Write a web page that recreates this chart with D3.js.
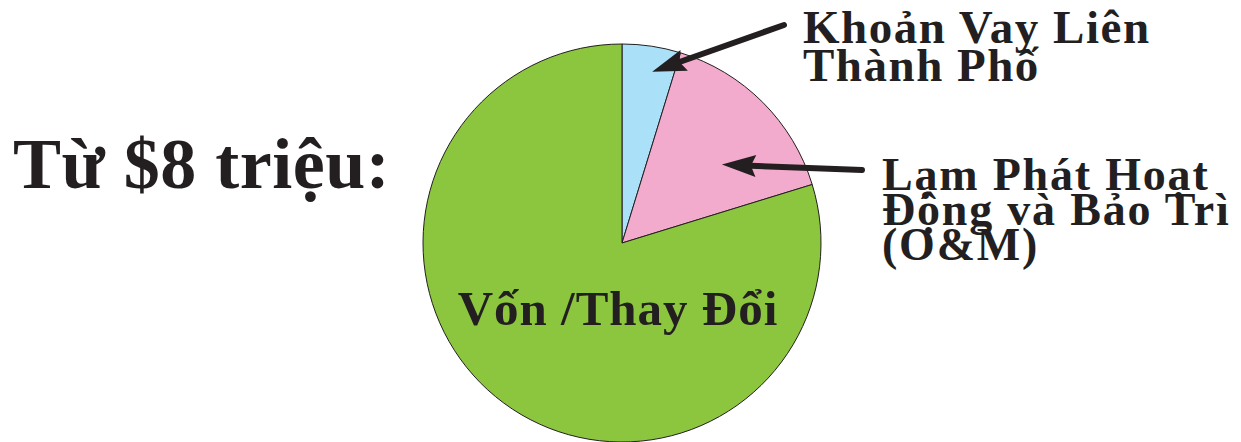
<!DOCTYPE html>
<html>
<head>
<meta charset="utf-8">
<script src="https://cdn.jsdelivr.net/npm/d3@7"></script>
<style>
  body { margin: 0; background: #fff; }
  svg text { font-family: "Liberation Serif", "DejaVu Serif", serif; font-weight: bold; fill: #231f20; }
</style>
</head>
<body>
<svg id="chart"></svg>
<script>
// slices in millions of dollars, out of $8 million, clockwise from 12 o'clock
var categories = ["Khoản Vay Liên Thành Phố", "Lạm Phát Hoạt Động và Bảo Trì (O&M)", "Vốn /Thay Đổi"];
var values = [0.38, 1.24, 6.38];
var colors = ["#abe1f8", "#f3abcd", "#8cc63f"];

var title = "Từ $8 triệu:";
var labelLoan = ["Khoản Vay Liên", "Thành Phố"];
var labelOM = ["Lạm Phát Hoạt", "Động và Bảo Trì", "(O&M)"];
var labelCap = "Vốn /Thay Đổi";

var width = 1241, height = 442;
var cx = 622, cy = 243, radius = 199;

var svg = d3.select("#chart")
	.attr("width", width)
	.attr("height", height);

var data = categories.map(function(c, i){ return {name: c, value: values[i], color: colors[i]}; });

var pie = d3.pie()
	.sort(null)
	.value(function(d){ return d.value; });

var arc = d3.arc()
	.innerRadius(0)
	.outerRadius(radius);

var g = svg.append("g")
	.attr("transform", "translate(" + cx + "," + cy + ")");

var arcs = pie(data);

g.selectAll("path.slice")
	.data(arcs)
	.enter().append("path")
	.attr("class", "slice")
	.attr("d", arc)
	.attr("fill", function(d){ return d.data.color; })
	.attr("stroke", "#231f20")
	.attr("stroke-width", 1);

// arrow with a notched head; tip inside the slice, tail near the label
function arrow(a, rTip, angOff, tail) {
	var mid = (a.startAngle + a.endAngle) / 2 + angOff;
	var tip = d3.pointRadial(mid, rTip);
	var tx = tail[0] - cx, ty = tail[1] - cy;
	var dx = tx - tip[0], dy = ty - tip[1];
	var len = Math.sqrt(dx * dx + dy * dy);
	var ux = dx / len, uy = dy / len;
	var nx = -uy, ny = ux;
	var L = 34, W = 11, notch = 5;
	var nb = [tip[0] + ux * (L - notch), tip[1] + uy * (L - notch)];

	g.append("line")
		.attr("x1", nb[0])
		.attr("y1", nb[1])
		.attr("x2", tx)
		.attr("y2", ty)
		.attr("stroke", "#231f20")
		.attr("stroke-width", 6)
		.attr("stroke-linecap", "round");

	var pts = [
		tip,
		[tip[0] + ux * L + nx * W, tip[1] + uy * L + ny * W],
		nb,
		[tip[0] + ux * L - nx * W, tip[1] + uy * L - ny * W]
	];
	g.append("path")
		.attr("d", d3.line()(pts) + "Z")
		.attr("fill", "#231f20");
}
arrow(arcs[0], 174, 0.025, [784, 25]);
arrow(arcs[1], 127, 0.12, [862, 170]);

svg.append("text")
	.attr("x", 13)
	.attr("y", 188)
	.style("font-size", "72px")
	.style("letter-spacing", "0.5px")
	.text(title);

function multiline(lines, x, y, size, lh, ls) {
	lines.forEach(function(d, i){
		svg.append("text")
			.attr("x", x)
			.attr("y", y + i * lh)
			.style("font-size", size + "px")
			.style("letter-spacing", ls + "px")
			.text(d);
	});
}
multiline(labelLoan, 803, 43, 47, 38, 1.5);
multiline(labelOM, 882, 190, 46, 35, 1.8);

svg.append("text")
	.attr("x", 618)
	.attr("y", 325)
	.attr("text-anchor", "middle")
	.style("font-size", "49px")
	.style("letter-spacing", "1px")
	.text(labelCap);
</script>
</body>
</html>
